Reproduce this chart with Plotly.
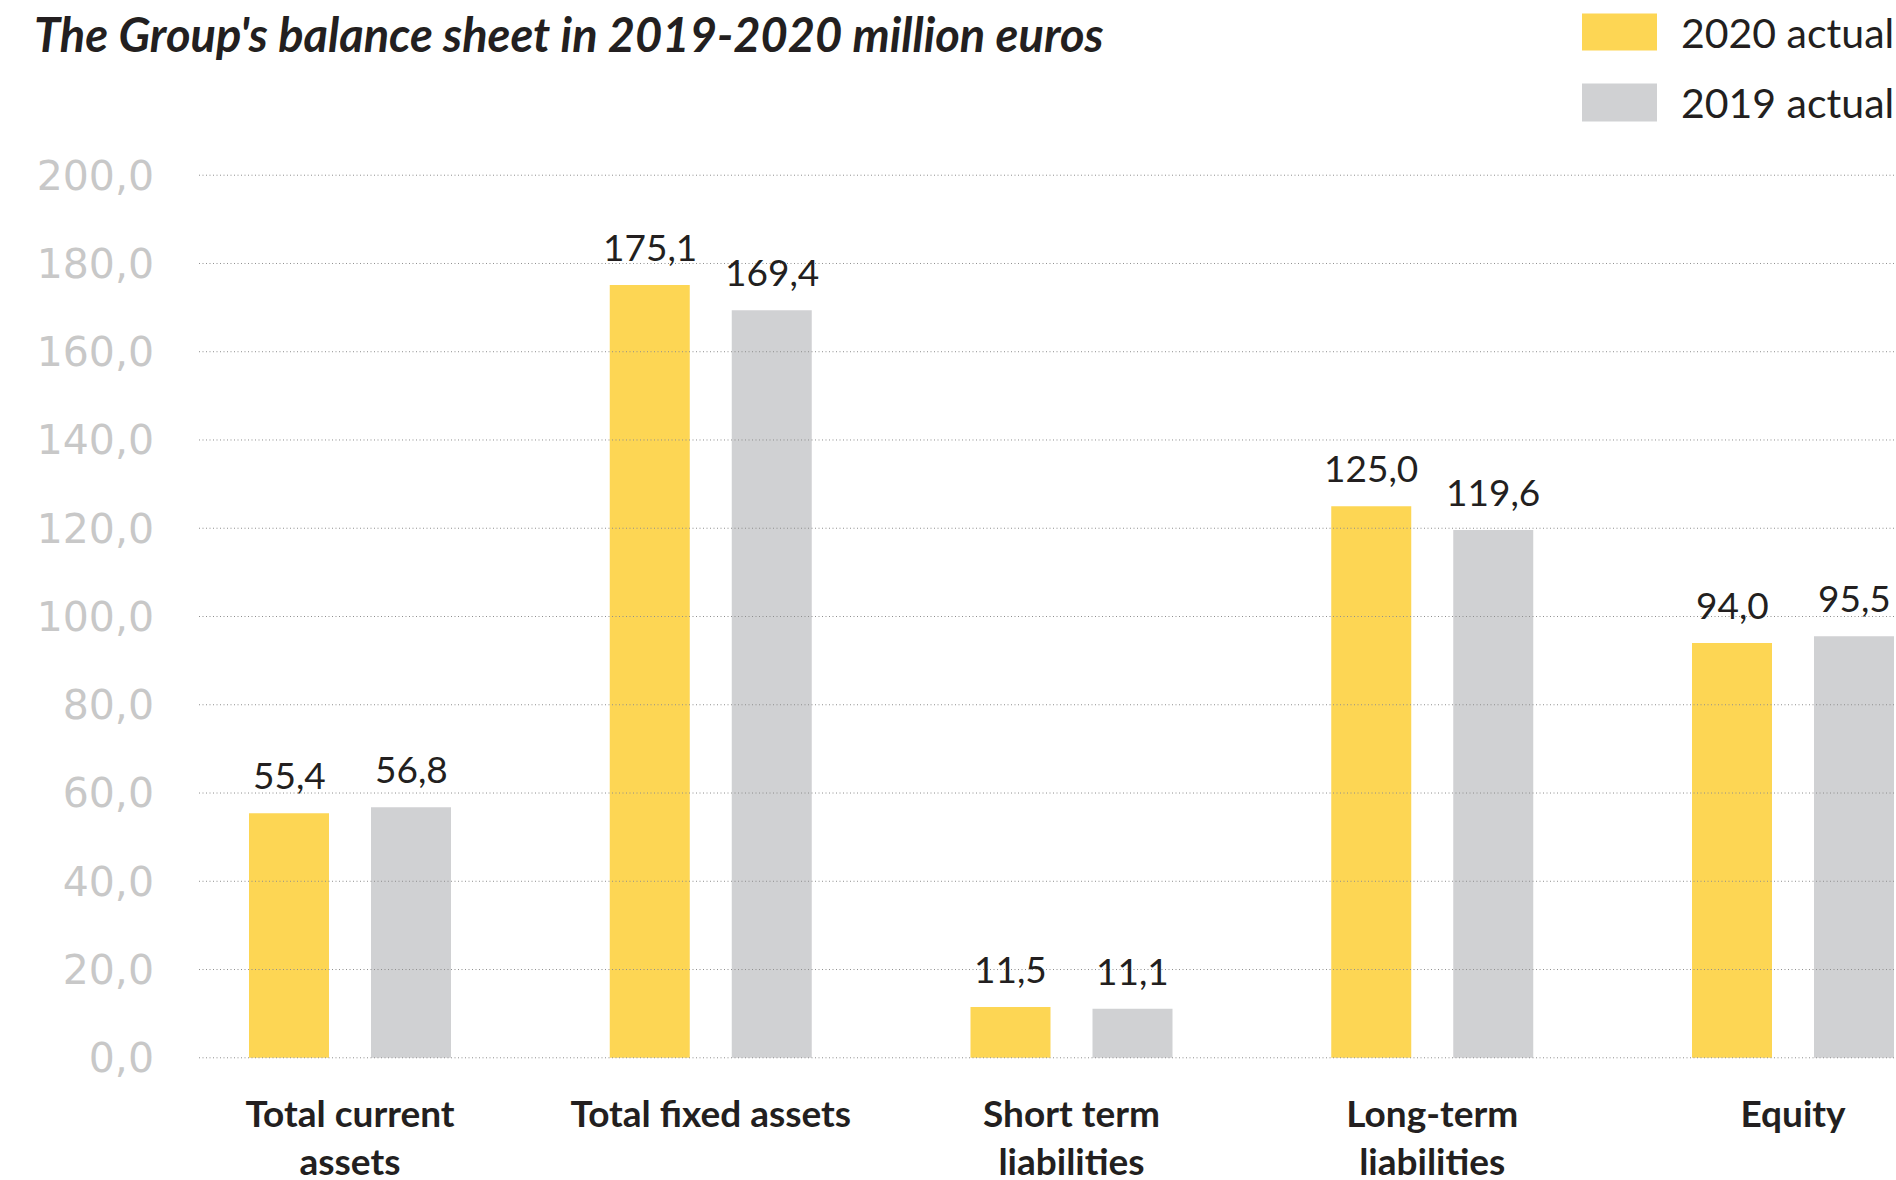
import plotly.graph_objects as go

# ---- data ---------------------------------------------------------------
categories = [
    "Total current<br>assets",
    "Total fixed assets",
    "Short term<br>liabilities",
    "Long-term<br>liabilities",
    "Equity",
]
actual_2020 = [55.4, 175.1, 11.5, 125.0, 94.0]
actual_2019 = [56.8, 169.4, 11.1, 119.6, 95.5]
series_names = ["2020 actual", "2019 actual"]
y_ticks = [0, 20, 40, 60, 80, 100, 120, 140, 160, 180, 200]
title_text = "The Group's balance sheet in 2019-2020 million euros"

# ---- style --------------------------------------------------------------
YELLOW = "#FDD654"
GREY = "#D0D1D3"
INK = "#231F20"
TICK_GREY = "#C8C8C8"
GRID = "#8E8E8E"

W, H = 1896, 1180
PLOT_L, PLOT_R, PLOT_T, PLOT_B = 199, 1896, 172.5, 1060
PLOT_W, PLOT_H = PLOT_R - PLOT_L, PLOT_B - PLOT_T

# horizontal layout: group centres and bar geometry in pixels
FIRST_CENTER, LAST_CENTER = 350, 1793
CAT_PX = (LAST_CENTER - FIRST_CENTER) / (len(categories) - 1)
BAR_PX, INNER_GAP_PX = 80, 42
SLOT_PX = BAR_PX + INNER_GAP_PX
BARGAP = 1 - 2 * SLOT_PX / CAT_PX
BARGROUPGAP = 1 - BAR_PX / SLOT_PX
X_RANGE = [
    -(FIRST_CENTER - PLOT_L) / CAT_PX,
    len(categories) - 1 + (PLOT_R - LAST_CENTER) / CAT_PX,
]
Y_RANGE = [-0.5, 200.5]


def px_x(px):
    return (px - PLOT_L) / PLOT_W


def px_y(py):
    return (PLOT_B - py) / PLOT_H


def fmt(v):
    return f"{v:.1f}".replace(".", ",")


fig = go.Figure()
for name, vals, color in [
    (series_names[0], actual_2020, YELLOW),
    (series_names[1], actual_2019, GREY),
]:
    fig.add_trace(
        go.Bar(
            x=categories,
            y=vals,
            name=name,
            marker=dict(color=color, line=dict(width=0)),
            hoverinfo="skip",
        )
    )

# dotted grid drawn over the bars
shapes = []
for t in y_ticks:
    shapes.append(
        dict(
            type="line", xref="paper", yref="y", x0=0, x1=1, y0=t, y1=t,
            line=dict(color=GRID, width=1, dash="1px,2.5px"), layer="above",
        )
    )

# legend swatches
for (top, bottom), color in [((13, 50), YELLOW), ((83, 121), GREY)]:
    shapes.append(
        dict(
            type="rect", xref="paper", yref="paper",
            x0=px_x(1582), x1=px_x(1657), y0=px_y(bottom), y1=px_y(top),
            fillcolor=color, line=dict(width=0), layer="above",
        )
    )

annotations = []
# value labels above each bar
offset_px = SLOT_PX / 2
for sign, vals in [(-1, actual_2020), (1, actual_2019)]:
    for i, v in enumerate(vals):
        annotations.append(
            dict(
                x=i, y=v, xref="x", yref="y", text=fmt(v), showarrow=False,
                xanchor="center", yanchor="bottom", xshift=sign * offset_px,
                yshift=14, font=dict(family="Lato", size=37, color=INK),
            )
        )

# legend labels
for name, mid in [(series_names[0], 31.5), (series_names[1], 102)]:
    annotations.append(
        dict(
            x=px_x(1679), y=px_y(mid), xref="paper", yref="paper", text=name,
            showarrow=False, xanchor="left", yanchor="middle",
            font=dict(family="Lato", size=41, color=INK),
        )
    )

fig.update_layout(
    width=W,
    height=H,
    autosize=False,
    margin=dict(l=PLOT_L, r=W - PLOT_R, t=PLOT_T, b=H - PLOT_B, pad=0),
    paper_bgcolor="white",
    plot_bgcolor="white",
    barmode="group",
    bargap=BARGAP,
    bargroupgap=BARGROUPGAP,
    showlegend=False,
    separators=", ",
    title=dict(
        text=title_text,
        xref="container", x=34 / W, xanchor="left",
        yref="container", y=1 - 19 / H, yanchor="top",
        font=dict(family="Lato", size=47, color=INK, weight="bold", style="italic"),
    ),
    xaxis=dict(
        type="category",
        range=X_RANGE,
        automargin=False,
        showgrid=False,
        zeroline=False,
        showline=False,
        ticks="",
        ticklabelstandoff=29,
        tickfont=dict(family="Lato", size=37, color=INK, weight="bold"),
    ),
    yaxis=dict(
        range=Y_RANGE,
        tickvals=y_ticks,
        tickformat=".1f",
        automargin=False,
        showgrid=False,
        zeroline=False,
        showline=False,
        ticks="",
        ticklabelstandoff=44,
        tickfont=dict(family="DejaVu Sans", size=41, color=TICK_GREY),
    ),
    shapes=shapes,
    annotations=annotations,
)

fig.write_html("out.html", config={"displayModeBar": False})
